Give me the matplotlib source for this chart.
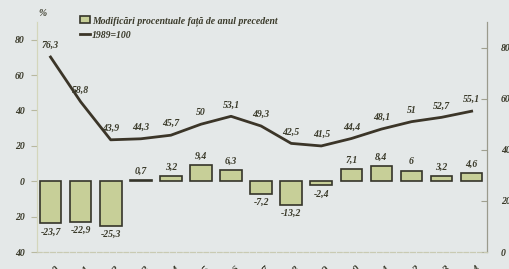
import numpy as np
import matplotlib
matplotlib.use('Agg')
import matplotlib.pyplot as plt

# date
ani = ['1990', '1991', '1992', '1993', '1994', '1995', '1996', '1997',
       '1998', '1999', '2000', '2001', '2002', '2003', '2004']
modificari = [-23.7, -22.9, -25.3, 0.7, 3.2, 9.4, 6.3, -7.2, -13.2, -2.4,
              7.1, 8.4, 6, 3.2, 4.6]
indice = [76.3, 58.8, 43.9, 44.3, 45.7, 50, 53.1, 49.3, 42.5, 41.5,
          44.4, 48.1, 51, 52.7, 55.1]
stanga_ticks = [-40, -20, 0, 20, 40, 60, 80]
stanga_labels = ['40', '20', '0', '20', '40', '60', '80']
dreapta_ticks = [0, 20, 40, 60, 80]

bg = '#e4e8e8'
txt = '#3a3a2a'
font = dict(family='Liberation Serif', style='italic', weight='bold')

def fmt(v):
    return ('%g' % v).replace('.', ',')

fig = plt.figure(figsize=(5.1, 2.69), dpi=100)
fig.patch.set_facecolor(bg)
ax = fig.add_axes([37/510, 1-252/269, 450/510, 230/269])
ax.set_facecolor(bg)
ax2 = ax.twinx()

x = np.arange(len(ani))
bars = ax.bar(x, modificari, width=0.72, color='#c7cf98',
              edgecolor='#35352a', linewidth=1.2, zorder=2)
line, = ax2.plot(x, indice, color='#3b3528', linewidth=2, zorder=3)

ax.set_xlim(-0.45, 14.51)
ax.set_ylim(-40, 90)
ax2.set_ylim(0, 90)

# etichete bare
for xi, v in zip(x, modificari):
    if v >= 0:
        ax.annotate(fmt(v), (xi, v), xytext=(0, 3), textcoords='offset points',
                    ha='center', va='bottom', fontsize=7, color=txt, **font)
    else:
        ax.annotate(fmt(v), (xi, v), xytext=(0, -3), textcoords='offset points',
                    ha='center', va='top', fontsize=7, color=txt, **font)

# etichete linie
for xi, v in zip(x, indice):
    ax2.annotate(fmt(v), (xi, v), xytext=(0, 5), textcoords='offset points',
                 ha='center', va='bottom', fontsize=7, color=txt, **font)

ax.set_yticks(stanga_ticks)
ax.set_yticklabels(stanga_labels, fontsize=7, color=txt, **font)
ax.tick_params(axis='y', direction='out', length=4, pad=5, color='#b8b8a0')
ax2.set_yticks(dreapta_ticks)
ax2.set_yticklabels([str(t) for t in dreapta_ticks], fontsize=7, color=txt, **font)
ax2.tick_params(axis='y', direction='in', length=4, pad=10, color='#a0a090')

ax.set_xticks(x)
ax.set_xticklabels(ani, rotation=45, fontsize=8, color=txt, **font)
ax.tick_params(axis='x', length=0, pad=9)

for a in (ax, ax2):
    a.spines['top'].set_visible(False)
    a.spines['left'].set_color('#d4d6bc')
    a.spines['right'].set_color('#9a9a8c')
    a.spines['bottom'].set_color('#c9cab2')
    a.spines['bottom'].set_linestyle((0, (4, 2)))

fig.text(38/510, 1-13/269, '%', fontsize=7, color=txt, ha='left', va='center', **font)

leg = ax2.legend([bars, line], ['Modificări procentuale față de anul precedent', '1989=100'],
                 loc='upper left', bbox_to_anchor=(80/510, 1-16/269),
                 bbox_transform=fig.transFigure, frameon=False,
                 prop=dict(family='Liberation Serif', style='italic', weight='bold', size=7),
                 handlelength=1.0, handleheight=0.6, handletextpad=0.2,
                 labelspacing=0.5, borderpad=0, borderaxespad=0)
for t in leg.get_texts():
    t.set_color(txt)

fig.savefig('out.png', dpi=100, facecolor=bg)
